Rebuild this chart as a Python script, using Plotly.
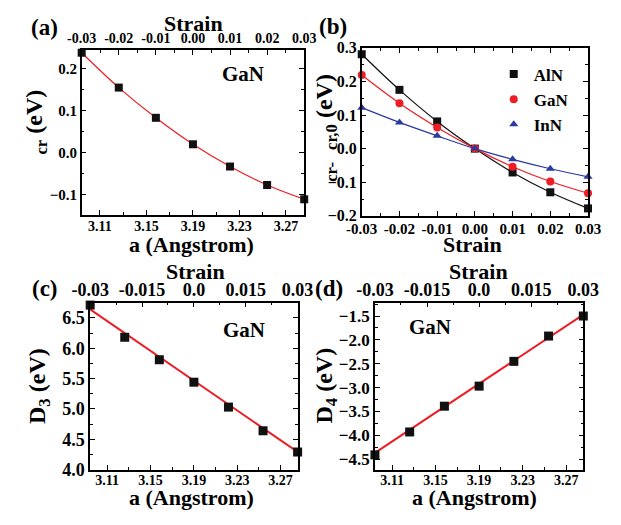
import plotly.graph_objects as go

# ---------------- data ----------------
strain = [-0.03, -0.02, -0.01, 0.0, 0.01, 0.02, 0.03]
a_lat = [3.0943, 3.1262, 3.1581, 3.19, 3.2219, 3.2538, 3.2857]

# (a) crystal-field splitting of GaN (eV)
cr_gan = [0.238, 0.155, 0.083, 0.020, -0.033, -0.077, -0.111]

# (b) change of crystal-field splitting vs strain (eV)
d_aln = [0.281, 0.175, 0.081, 0.0, -0.071, -0.130, -0.178]
d_gan = [0.219, 0.135, 0.063, 0.0, -0.054, -0.098, -0.133]
d_inn = [0.122, 0.078, 0.038, 0.0, -0.032, -0.060, -0.084]

# (c) D3 (eV) and its linear fit (end points)
d3 = [6.71, 6.18, 5.81, 5.44, 5.03, 4.64, 4.29]
d3_fit_a = [3.0943, 3.2857]
d3_fit = [6.64, 4.29]

# (d) D4 (eV) and its linear fit
d4 = [-4.41, -3.93, -3.39, -2.97, -2.45, -1.92, -1.50]
d4_fit_a = [3.0943, 3.2857]
d4_fit = [-4.37, -1.47]

a_ticks = [3.11, 3.15, 3.19, 3.23, 3.27]
strain_ticks_a = [-0.03, -0.02, -0.01, 0.0, 0.01, 0.02, 0.03]
strain_text_a = ["-0.03", "-0.02", "-0.01", "0.00", "0.01", "0.02", "0.03"]
strain_ticks_cd = [-0.03, -0.015, 0.0, 0.015, 0.03]
strain_text_cd = ["-0.03", "-0.015", "0.0", "0.015", "0.03"]

# page body has an 8px margin: figure is placed at (8, 8)
OFF = 8
W, H = 621 - OFF, 525 - OFF
FONT = "Liberation Serif"
RED = "#ee1c24"
BLUE = "#2b3a9f"


def px(x):
    return (x - OFF) / W


def py(y):
    return 1 - (y - OFF) / H


def tf(size):
    return dict(family=FONT, size=size, color="black", weight="bold")


fig = go.Figure()

# (a)
fig.add_trace(go.Scatter(x=a_lat, y=cr_gan, mode="lines", line=dict(color=RED, width=1.2, shape="spline"),
                         xaxis="x", yaxis="y", showlegend=False, hoverinfo="skip"))
fig.add_trace(go.Scatter(x=a_lat, y=cr_gan, mode="markers",
                         marker=dict(symbol="square", size=8, color="#111111"),
                         xaxis="x", yaxis="y", showlegend=False, cliponaxis=False))

# (b)
for vals, col, sym, name in [(d_aln, "#111111", "square", "AlN"),
                             (d_gan, RED, "circle", "GaN"),
                             (d_inn, BLUE, "triangle-up", "InN")]:
    fig.add_trace(go.Scatter(x=strain, y=vals, mode="lines", line=dict(color=col, width=1.2, shape="spline"),
                             xaxis="x3", yaxis="y3", showlegend=False, hoverinfo="skip"))
    fig.add_trace(go.Scatter(x=strain, y=vals, mode="markers", name=name,
                             marker=dict(symbol=sym, size=8, color=col),
                             xaxis="x3", yaxis="y3", showlegend=True, cliponaxis=False))

# (c)
fig.add_trace(go.Scatter(x=d3_fit_a, y=d3_fit, mode="lines", line=dict(color=RED, width=2),
                         xaxis="x4", yaxis="y4", showlegend=False, hoverinfo="skip"))
fig.add_trace(go.Scatter(x=a_lat, y=d3, mode="markers",
                         marker=dict(symbol="square", size=9, color="#111111"),
                         xaxis="x4", yaxis="y4", showlegend=False, cliponaxis=False))

# (d)
fig.add_trace(go.Scatter(x=d4_fit_a, y=d4_fit, mode="lines", line=dict(color=RED, width=2),
                         xaxis="x6", yaxis="y6", showlegend=False, hoverinfo="skip"))
fig.add_trace(go.Scatter(x=a_lat, y=d4, mode="markers",
                         marker=dict(symbol="square", size=9, color="#111111"),
                         xaxis="x6", yaxis="y6", showlegend=False, cliponaxis=False))


def ax_common(size):
    return dict(showline=True, linecolor="black", linewidth=1.5, ticks="inside", ticklen=5,
                tickwidth=1.3, tickcolor="black", showgrid=False, zeroline=False, tickfont=tf(size))


a_range = [3.0943, 3.2857]

dom_a = dict(x=[px(66), px(302)], y=[py(214), py(43)])
dom_b = dict(x=[px(363), px(603)], y=[py(215), py(41)])
dom_c = dict(x=[px(75), px(295)], y=[py(478), py(305)])
dom_d = dict(x=[px(377), px(598)], y=[py(478), py(305)])

mn = lambda d, **k: dict(ticks="inside", ticklen=3, dtick=d, tickcolor="black", **k)

layout_axes = {}
# (a)
layout_axes["xaxis"] = dict(ax_common(14), domain=dom_a["x"], anchor="y", range=a_range,
                            tickvals=a_ticks, tickformat=".2f", minor=mn(0.02, tick0=3.11),
                            ticklabelstandoff=-2)
layout_axes["xaxis2"] = dict(ax_common(14), domain=dom_a["x"], anchor="y", overlaying="x", side="top",
                             range=[-0.03, 0.03], tickvals=strain_ticks_a, ticktext=strain_text_a,
                             minor=mn(0.005), ticklabelstandoff=-1)
layout_axes["yaxis"] = dict(ax_common(15), domain=dom_a["y"], anchor="x", range=[-0.148, 0.245],
                            dtick=0.1, tickformat=".1f", mirror="ticks", minor=mn(0.05))
# (b)
layout_axes["xaxis3"] = dict(ax_common(15), domain=dom_b["x"], anchor="y3", range=[-0.03, 0.03],
                             tickvals=strain_ticks_a, ticktext=strain_text_a, mirror="ticks",
                             minor=mn(0.005), ticklabelstandoff=-2)
layout_axes["yaxis3"] = dict(ax_common(16), domain=dom_b["y"], anchor="x3", range=[-0.2, 0.3],
                             dtick=0.1, tickformat=".1f", mirror="ticks", minor=mn(0.05))
# (c)
layout_axes["xaxis4"] = dict(ax_common(14), domain=dom_c["x"], anchor="y4", range=a_range,
                             tickvals=a_ticks, tickformat=".2f", minor=mn(0.02, tick0=3.11),
                             ticklabelstandoff=-3)
layout_axes["xaxis5"] = dict(ax_common(18), domain=dom_c["x"], anchor="y4", overlaying="x4", side="top",
                             range=[-0.03, 0.03], tickvals=strain_ticks_cd, ticktext=strain_text_cd,
                             minor=mn(0.0075), ticklabelstandoff=-2)
layout_axes["yaxis4"] = dict(ax_common(18), domain=dom_c["y"], anchor="x4", range=[4.0, 6.75],
                             dtick=0.5, tickformat=".1f", mirror="ticks", minor=mn(0.25))
# (d)
layout_axes["xaxis6"] = dict(ax_common(14), domain=dom_d["x"], anchor="y6", range=a_range,
                             tickvals=a_ticks, tickformat=".2f", minor=mn(0.02, tick0=3.11),
                             ticklabelstandoff=-3)
layout_axes["xaxis7"] = dict(ax_common(18), domain=dom_d["x"], anchor="y6", overlaying="x6", side="top",
                             range=[-0.03, 0.03], tickvals=strain_ticks_cd, ticktext=strain_text_cd,
                             minor=mn(0.0075), ticklabelstandoff=-2)
layout_axes["yaxis6"] = dict(ax_common(17), domain=dom_d["y"], anchor="x6", range=[-4.72, -1.22],
                             dtick=0.5, tickformat=".1f", mirror="ticks", minor=mn(0.25))

# empty traces so that the top strain axes are drawn
for xa, ya in [("x2", "y"), ("x5", "y4"), ("x7", "y6")]:
    fig.add_trace(go.Scatter(x=[0.0], y=[None], xaxis=xa, yaxis=ya, mode="markers",
                             showlegend=False, hoverinfo="skip"))

annotations = []


def ann(text, x, y, size, angle=0):
    annotations.append(dict(text=text, x=px(x), y=py(y), xref="paper", yref="paper", showarrow=False,
                            textangle=angle, xanchor="center", yanchor="middle", font=tf(size)))


# panel labels
ann("(a)", 27, 20, 23)
ann("(b)", 332, 19, 23)
ann("(c)", 27, 290, 23)
ann("(d)", 328, 290, 23)
# compound labels
ann("GaN", 237, 68, 21)
ann("GaN", 238, 333, 21)
ann("GaN", 435, 330, 21)
# axis titles
ann("Strain", 185, 16, 22)
ann("a (Angstrom)", 182, 245, 22)
ann("Strain", 480, 245, 22)
ann("Strain", 187, 273, 22)
ann("a (Angstrom)", 182, 507, 22)
ann("Strain", 487, 273, 22)
ann("a (Angstrom)", 483, 507, 22)
# y titles
ann("<sub>cr</sub> (eV)", 18, 118, 24, -90)
ann("<sub>cr-</sub>\u2002<sub>cr,0</sub> (eV)", 325, 124, 24, -90)
ann("D<sub>3</sub> (eV)", 20, 391, 24, -90)
ann("D<sub>4</sub> (eV)", 325, 391, 24, -90)

fig.update_layout(
    width=W, height=H, margin=dict(l=0, r=0, t=0, b=0),
    paper_bgcolor="white", plot_bgcolor="white",
    font=dict(family=FONT, color="black"),
    showlegend=True,
    legend=dict(x=px(503), y=py(50), xanchor="left", yanchor="top", bgcolor="rgba(0,0,0,0)",
                font=tf(17), itemsizing="trace", tracegroupgap=0),
    annotations=annotations,
    **layout_axes,
)

fig.write_html("out.html")
